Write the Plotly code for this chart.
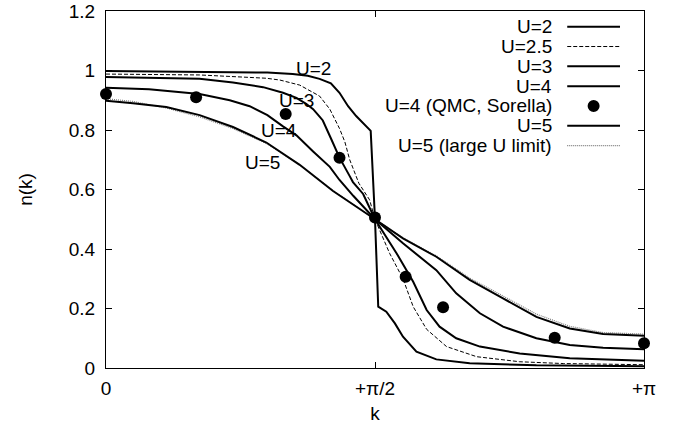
import plotly.graph_objects as go

# momentum k in units of pi, occupation n(k)
k_u2 = [0, 0.174, 0.30, 0.347, 0.375, 0.397, 0.418, 0.434, 0.450, 0.465, 0.480, 0.492, 0.5,
        0.506, 0.521, 0.537, 0.552, 0.577, 0.614, 0.676, 0.80, 1.0]
n_u2 = [0.998, 0.996, 0.993, 0.988, 0.982, 0.972, 0.957, 0.925, 0.880, 0.847, 0.820, 0.797, 0.5,
        0.206, 0.189, 0.150, 0.105, 0.055, 0.029, 0.016, 0.009, 0.006]

k_u25 = [0, 0.174, 0.298, 0.323, 0.360, 0.397, 0.416, 0.434, 0.444, 0.453, 0.470, 0.490, 0.5,
         0.527, 0.552, 0.571, 0.596, 0.633, 0.689, 0.769, 0.85, 1.0]
n_u25 = [0.988, 0.985, 0.974, 0.968, 0.951, 0.914, 0.870, 0.805, 0.760, 0.700, 0.621, 0.565, 0.5,
         0.386, 0.300, 0.206, 0.130, 0.072, 0.038, 0.021, 0.015, 0.011]

k_u3 = [0, 0.174, 0.236, 0.267, 0.292, 0.329, 0.354, 0.372, 0.385, 0.397, 0.403, 0.419, 0.434,
        0.453, 0.459, 0.478, 0.5, 0.540, 0.571, 0.596, 0.620, 0.651, 0.695, 0.769, 0.862, 1.0]
n_u3 = [0.978, 0.972, 0.960, 0.952, 0.944, 0.925, 0.908, 0.888, 0.870, 0.845, 0.832, 0.768, 0.707,
        0.645, 0.625, 0.585, 0.5, 0.386, 0.290, 0.195, 0.139, 0.100, 0.072, 0.049, 0.033, 0.024]

k_u4 = [0, 0.08, 0.174, 0.23, 0.267, 0.30, 0.329, 0.354, 0.385, 0.416, 0.434, 0.460, 0.5,
        0.552, 0.614, 0.651, 0.695, 0.738, 0.80, 0.862, 0.924, 1.0]
n_u4 = [0.942, 0.937, 0.921, 0.900, 0.880, 0.850, 0.812, 0.782, 0.728, 0.676, 0.632, 0.578, 0.5,
        0.419, 0.329, 0.251, 0.184, 0.139, 0.100, 0.077, 0.068, 0.063]

k_u5 = [0, 0.05, 0.112, 0.174, 0.236, 0.298, 0.36, 0.422, 0.5,
        0.552, 0.614, 0.676, 0.738, 0.80, 0.862, 0.924, 1.0]
n_u5 = [0.898, 0.890, 0.877, 0.850, 0.810, 0.758, 0.683, 0.595, 0.5,
        0.436, 0.374, 0.296, 0.234, 0.172, 0.133, 0.114, 0.108]

k_u5_large = [0, 0.05, 0.112, 0.174, 0.236, 0.298, 0.36, 0.422, 0.5,
              0.552, 0.614, 0.676, 0.738, 0.80, 0.862, 0.924, 1.0]
n_u5_large = [0.905, 0.896, 0.874, 0.844, 0.805, 0.755, 0.683, 0.596, 0.5,
              0.437, 0.377, 0.302, 0.242, 0.181, 0.140, 0.119, 0.114]

k_qmc = [0, 0.1675, 0.334, 0.434, 0.5, 0.557, 0.6265, 0.834, 1.0]
n_qmc = [0.921, 0.910, 0.854, 0.707, 0.506, 0.307, 0.204, 0.102, 0.083]

x_tickvals = [0, 0.5, 1]
x_ticktext = ["0", "+\u03c0/2", "+\u03c0"]

curve_labels = ["U=2", "U=3", "U=4", "U=5"]
curve_label_k = [0.386, 0.354, 0.322, 0.290]
curve_label_n = [1.008, 0.900, 0.800, 0.690]

legend_names = ["U=2", "U=2.5", "U=3", "U=4", "U=4 (QMC, Sorella)", "U=5", "U=5 (large U limit)"]

FONT = "Liberation Sans, Arial, sans-serif"
FS = 19

solid = dict(color="black", width=2)
dashed = dict(color="black", width=1, dash="4px,2px")
dotted = dict(color="#7a7a7a", width=1.2, dash="1px,1px")

series = [
    (k_u2, n_u2, solid),
    (k_u25, n_u25, dashed),
    (k_u3, n_u3, solid),
    (k_u4, n_u4, solid),
    (k_u5_large, n_u5_large, dotted),
    (k_u5, n_u5, solid),
]

fig = go.Figure()
for xs, ys, ln in series:
    fig.add_trace(go.Scatter(x=xs, y=ys, mode="lines", line=ln,
                             showlegend=False, hoverinfo="skip"))

fig.add_trace(go.Scatter(x=k_qmc, y=n_qmc, mode="markers",
                         marker=dict(color="black", size=12),
                         cliponaxis=False, showlegend=False))

# curve labels inside the plot
for txt, kx, ny in zip(curve_labels, curve_label_k, curve_label_n):
    fig.add_annotation(x=kx, y=ny, text=txt, showarrow=False,
                       font=dict(family=FONT, size=FS, color="black"))

# key in the top-right corner: text right-aligned, sample to its right
legend_styles = [solid, dashed, solid, solid, "dot", solid, dotted]
row_top = 0.956
row_step = 0.0555
text_x = 0.8325
sample_x0, sample_x1 = 0.8573, 0.9554
for i, (name, st) in enumerate(zip(legend_names, legend_styles)):
    yy = row_top - i * row_step
    fig.add_annotation(xref="paper", yref="paper", x=text_x, y=yy, text=name,
                       xanchor="right", yanchor="middle", showarrow=False,
                       font=dict(family=FONT, size=FS, color="black"))
    if st == "dot":
        xc = (sample_x0 + sample_x1) / 2
        fig.add_shape(type="circle", xref="paper", yref="paper",
                      xsizemode="pixel", ysizemode="pixel",
                      xanchor=xc, yanchor=yy, x0=-6, x1=6, y0=-6, y1=6,
                      fillcolor="black", line=dict(color="black", width=0))
    else:
        fig.add_shape(type="line", xref="paper", yref="paper",
                      x0=sample_x0, x1=sample_x1, y0=yy, y1=yy, line=st)

axis_common = dict(showline=True, linecolor="black", linewidth=1.3, mirror="allticks",
                   ticks="inside", ticklen=6, tickwidth=1, tickcolor="black",
                   showgrid=False, zeroline=False,
                   tickfont=dict(family=FONT, size=FS, color="black"))

fig.update_xaxes(range=[0, 1], tickvals=x_tickvals, ticktext=x_ticktext,
                 ticklabelstandoff=3,
                 title=dict(text="k", font=dict(family=FONT, size=FS, color="black"),
                            standoff=8),
                 **axis_common)
fig.update_yaxes(range=[0, 1.2], dtick=0.2, ticklabelstandoff=6,
                 title=dict(text="n(k)", font=dict(family=FONT, size=FS, color="black"),
                            standoff=30),
                 **axis_common)

fig.update_layout(width=678, height=430,
                  margin=dict(l=106, r=34, t=11, b=62, autoexpand=False),
                  plot_bgcolor="white", paper_bgcolor="white",
                  font=dict(family=FONT, size=FS, color="black"))

fig.write_html("out.html")
